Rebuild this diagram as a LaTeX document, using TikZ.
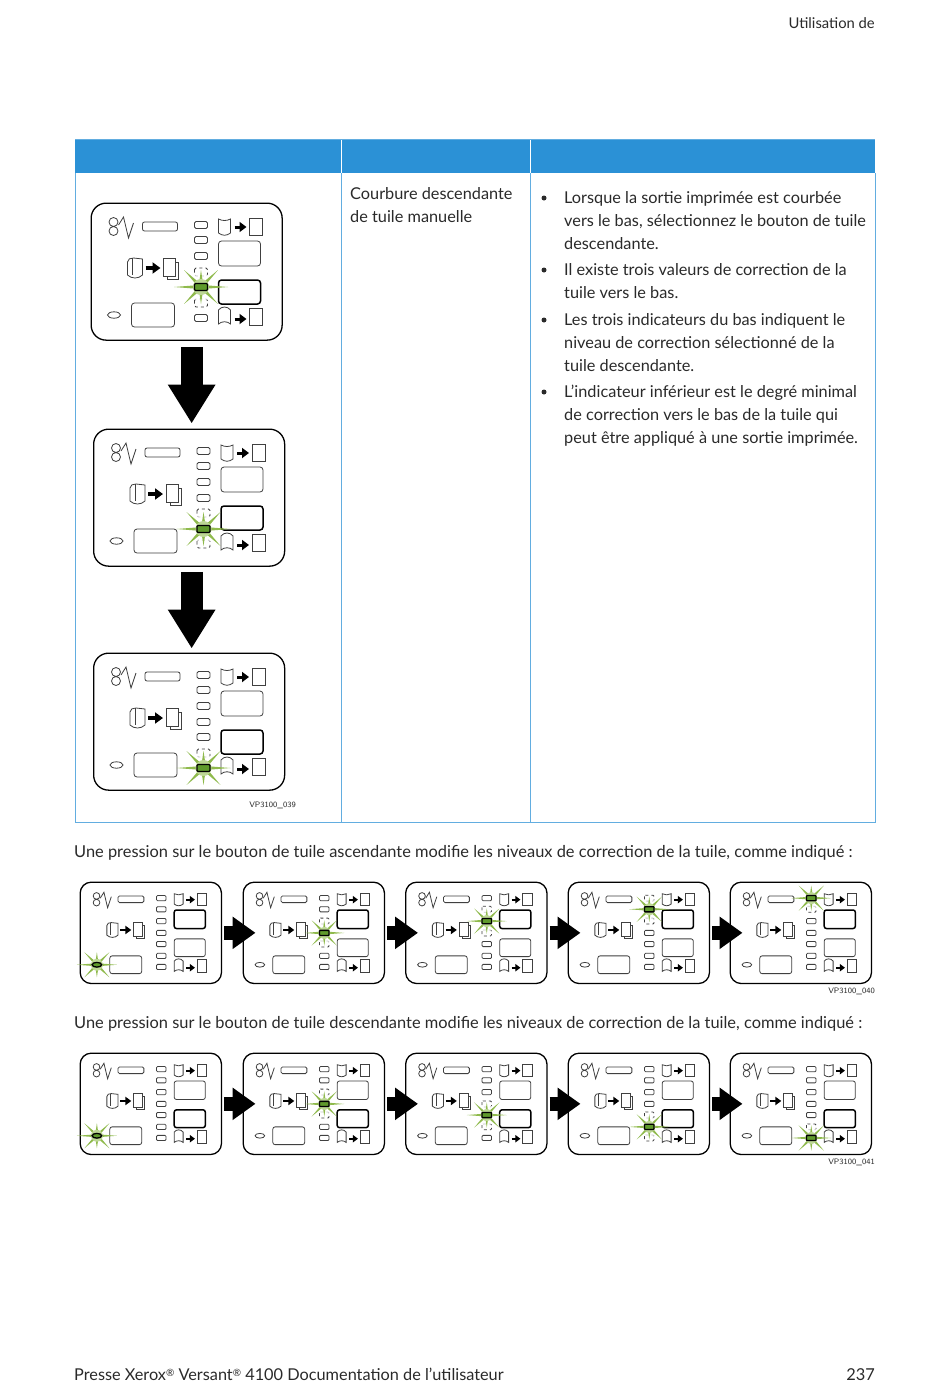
\documentclass[tikz,border=0pt]{standalone}
\usepackage{xcolor}
\usepackage{fontspec}
\setmainfont{Lato}
\usetikzlibrary{arrows.meta}

\definecolor{headblue}{HTML}{2B91D6}
\definecolor{gridblue}{HTML}{62ADE0}
\definecolor{inkgray}{HTML}{2A2A2A}
\definecolor{glowgreen}{HTML}{8FBA4C}
\definecolor{litgreen}{HTML}{5F9A2C}

\tikzset{
    body/.style={anchor=north west,inner sep=0pt,align=left,text=inkgray,
	font=\fontsize{16.3}{23}\selectfont},
    para/.style={anchor=base west,inner sep=0pt,text=inkgray,
	font=\fontsize{16.4}{23}\selectfont},
    tag/.style={anchor=base east,inner sep=0pt,text=inkgray,
	font=\sffamily\fontsize{8}{10}\selectfont},
    dot/.style={circle,fill=inkgray,inner sep=0pt,minimum size=5pt},
    thin part/.style={draw=black!75,line width=.8pt},
    bigarrow/.style={line width=14pt,-{Triangle[length=23pt,width=31pt]}},
    tallarrow/.style={line width=22pt,-{Triangle[length=39pt,width=45pt]}}
}

% name, left, top, scale, lit lamp (0-6, or 9 for the oval), heavy box (1 or 2)
\newcommand{\panel}[6]{
\begin{scope}[shift={(#2,#3)},scale=#4]
\node [draw,line width=1.3pt,rounded corners=#4*15pt,anchor=north west,inner sep=0pt,
    minimum width=#4*191pt,minimum height=#4*137pt] (#1) at (0,0) {};
\begin{scope}[shift={(1,.5)}]
\draw [thin part] (22,19) circle [radius=4.5] (22,28) circle [radius=4.5];
\draw [thin part] (27,22) -- (32,14) -- (37,35) -- (42,20);
\draw [thin part,rounded corners=#4*2pt] (51,19) rectangle (86,28);
% lamps
\foreach \lamp/\ly in {0/22,1/37,2/53,3/69,4/84,5/100,6/115} {
    \pgfmathtruncatemacro\away{abs(\lamp-#5)}
    \ifnum\away=0\else
    \ifnum\away=1
	\draw [thin part,dash pattern=on 3pt off 3pt,rounded corners=#4*1.5pt] (103,\ly-4) rectangle (116,\ly+4);
    \else
	\draw [thin part,rounded corners=#4*1.5pt] (103,\ly-3.5) rectangle (116,\ly+3.5);
    \fi\fi
}
% trays
\draw [thin part] (127,16) .. controls (131,18) and (135,18) .. (139,16) -- (139,30)
    .. controls (135,33) and (131,33) .. (127,30) -- cycle;
\draw [thin part] (158,15) rectangle (171,32);
\draw [line width=#4*3pt,-{Triangle[length=#4*7pt,width=#4*10pt]}] (143,24) -- (155,24);
\draw [thin part] (127,107) .. controls (130,103) and (136,103) .. (139,107) -- (139,121)
    .. controls (136,118) and (130,118) .. (127,121) -- cycle;
\draw [thin part] (158,105) rectangle (171,122);
\draw [line width=#4*3pt,-{Triangle[length=#4*7pt,width=#4*10pt]}] (143,116) -- (155,116);
% boxes
\ifnum#6=1
    \draw [line width=1.5pt,rounded corners=#4*3pt] (127,38) rectangle (169,63);
    \draw [thin part,rounded corners=#4*3pt] (127,77) rectangle (169,101);
\else
    \draw [thin part,rounded corners=#4*3pt] (127,38) rectangle (169,63);
    \draw [line width=1.5pt,rounded corners=#4*3pt] (127,77) rectangle (169,101);
\fi
\draw [thin part,rounded corners=#4*3pt] (40,100) rectangle (83,124);
% scroll and sheets
\draw [thin part] (36,59) .. controls (36,56) and (39,55) .. (42,55) -- (51,56) -- (51,72)
    .. controls (47,76) and (40,76) .. (36,72) -- cycle;
\draw [thin part] (41,55) -- (41,72);
\draw [line width=#4*3.2pt,-{Triangle[length=#4*8pt,width=#4*11pt]}] (54,65) -- (69,65);
\draw [thin part] (76,59) -- (87,59) -- (87,76) -- (76,76) -- cycle;
\draw [thin part,fill=white] (72,55) rectangle (84,73);
% oval and lit lamp
\ifnum#5=9
    \def\sx{22.5}\def\sy{112}
\else
    \pgfmathsetmacro\sx{109.5}
    \pgfmathsetmacro\sy{{22,37,53,69,84,100,115}[#5]}
    \draw [thin part] (22.5,112) ellipse [x radius=6.5,y radius=3.2];
\fi
\begin{scope}[shift={(\sx,\sy)}]
\fill [white,opacity=.7] (0,0) circle [radius=14];
\foreach \ang/\len in {0/27,90/17,180/27,270/17,45/24,135/24,225/24,315/24}
    \fill [glowgreen] (\ang-16:6) -- (\ang:\len) -- (\ang+16:6) -- cycle;
\fill [glowgreen!60] (0,0) circle [radius=8];
\ifnum#5=9
    \draw [fill=litgreen,line width=1.3pt] (0,0) ellipse [x radius=6.5,y radius=3.2];
\else
    \draw [fill=litgreen,line width=1.3pt,rounded corners=#4*1pt] (-6.5,-3.5) rectangle (6.5,3.5);
\fi
\end{scope}
\end{scope}
\end{scope}
}

\begin{document}
\begin{tikzpicture}[x=1pt,y=-1pt]
\useasboundingbox [fill=white] (0,0) rectangle (950,1387);

% table
\fill [headblue] (75,139) rectangle (875,173);
\draw [white,line width=1pt] (341,139) -- (341,173) (530.5,139) -- (530.5,173);
\draw [gridblue,line width=1pt]
    (75,139) -- (875,139) (75,173) -- (75,822.5) -- (875,822.5) -- (875,173)
    (341,173) -- (341,822.5) (530.5,173) -- (530.5,822.5);

\node [anchor=base east,inner sep=0pt,text=inkgray,font=\fontsize{14.8}{16}\selectfont]
    (running) at (875,28) {Utilisation de};

\node [body] (kind) at (350,187) {Courbure descendante\\de tuile manuelle};

\node [dot] (dota) at (544,198) {};
\node [body] (parta) at (564,191) {Lorsque la sortie imprimée est courbée\\
    vers le bas, sélectionnez le bouton de tuile\\descendante.};
\node [dot] (dotb) at (544,270) {};
\node [body] (partb) at (564,263) {Il existe trois valeurs de correction de la\\tuile vers le bas.};
\node [dot] (dotc) at (544,320) {};
\node [body] (partc) at (564,313) {Les trois indicateurs du bas indiquent le\\
    niveau de correction sélectionné de la\\tuile descendante.};
\node [dot] (dotd) at (544,392) {};
\node [body] (partd) at (564,385) {L'indicateur inférieur est le degré minimal\\
    de correction vers le bas de la tuile qui\\peut être appliqué à une sortie imprimée.};

% tall column
\panel{down}{90.5}{202.5}{1}{4}{2}
\panel{mid}{93}{428.5}{1}{5}{2}
\panel{low}{93}{652.5}{1}{6}{2}
\draw [tallarrow] ([xshift=5pt,yshift=-6pt]down.south) -- ([xshift=2.5pt,yshift=5pt]mid.north);
\draw [tallarrow] ([xshift=2.5pt,yshift=-5pt]mid.south) -- ([xshift=2.5pt,yshift=4pt]low.north);
\node [tag] (taga) at (296,807) {VP3100\_039};

\node [para] (riseline) at (74,857) {Une pression sur le bouton de tuile ascendante modifie les niveaux de correction de la tuile, comme indiqué :};
\node [para] (fallline) at (74,1028) {Une pression sur le bouton de tuile descendante modifie les niveaux de correction de la tuile, comme indiqué :};

% upper row
\panel{ra}{79.5}{881.5}{.74}{9}{1}
\panel{rb}{242.5}{881.5}{.74}{3}{1}
\panel{rc}{405}{881.5}{.74}{2}{1}
\panel{rd}{567.5}{881.5}{.74}{1}{1}
\panel{re}{729.5}{881.5}{.74}{0}{1}
\foreach \from/\to in {ra/rb,rb/rc,rc/rd,rd/re}
    \draw [bigarrow] ([xshift=2pt]\from.east) -- ([xshift=13pt]\to.west);
\node [tag] (tagb) at (875,993) {VP3100\_040};

% lower row
\panel{fa}{79.5}{1052.5}{.74}{9}{2}
\panel{fb}{242.5}{1052.5}{.74}{3}{2}
\panel{fc}{405}{1052.5}{.74}{4}{2}
\panel{fd}{567.5}{1052.5}{.74}{5}{2}
\panel{fe}{729.5}{1052.5}{.74}{6}{2}
\foreach \from/\to in {fa/fb,fb/fc,fc/fd,fd/fe}
    \draw [bigarrow] ([xshift=2pt]\from.east) -- ([xshift=13pt]\to.west);
\node [tag] (tagc) at (875,1164) {VP3100\_041};

% footer
\node [para,font=\fontsize{16.3}{23}\selectfont] (foot) at (74,1380)
    {Presse Xerox{\fontsize{10}{10}\selectfont\raisebox{4pt}{®}} Versant{\fontsize{10}{10}\selectfont\raisebox{4pt}{®}} 4100 Documentation de l'utilisateur};
\node [anchor=base east,inner sep=0pt,text=inkgray,font=\fontsize{16.4}{23}\selectfont]
    (page) at (875,1380) {237};
\end{tikzpicture}
\end{document}
